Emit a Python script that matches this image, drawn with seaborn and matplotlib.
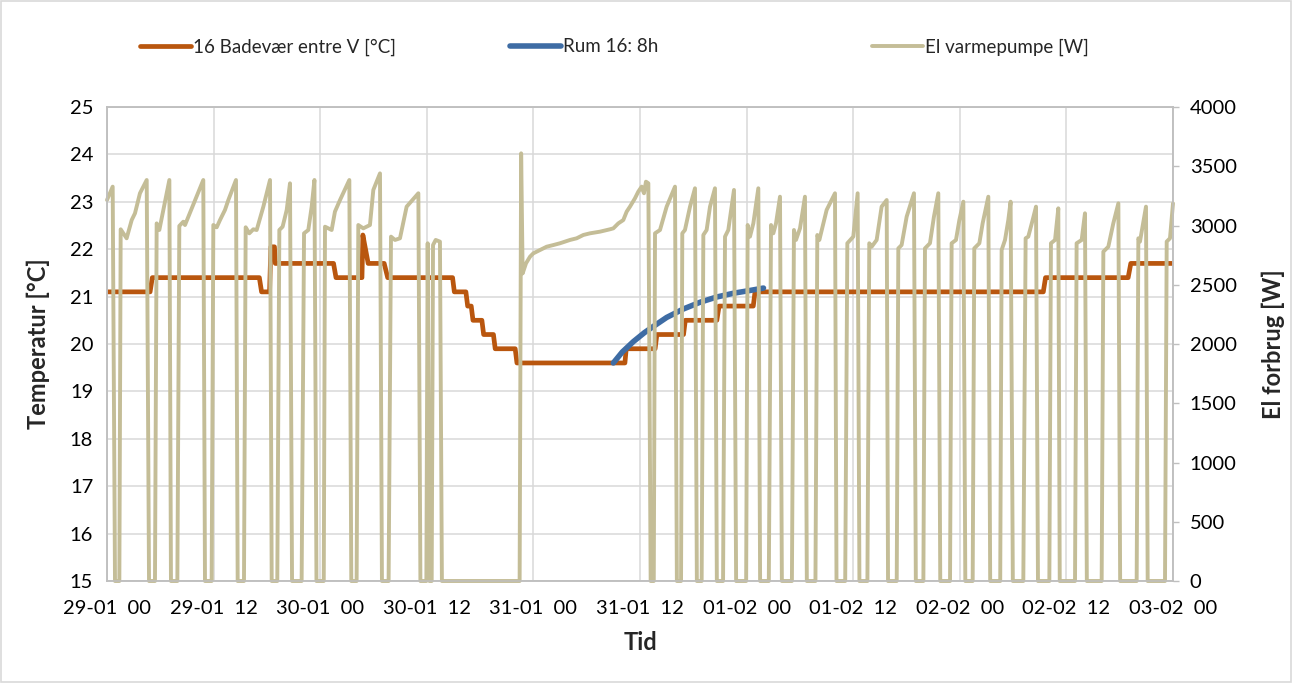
import matplotlib
matplotlib.use("Agg")
import matplotlib.pyplot as plt
from matplotlib.lines import Line2D
from matplotlib.patches import Rectangle
import seaborn as sns
import pandas as pd

# ---------------- data (hours since 29-01 00:00) ----------------
tick_hours = [0, 12, 24, 36, 48, 60, 72, 84, 96, 108, 120]
tick_labels = ["29-01  00", "29-01  12", "30-01  00", "30-01  12", "31-01  00",
               "31-01  12", "01-02  00", "01-02  12", "02-02  00", "02-02  12",
               "03-02  00"]

temp_t = [0.0, 4.85, 5.1, 17.15, 17.4, 18.3, 18.45, 18.85, 18.95, 25.5, 25.78,
          28.7, 28.8, 29.05, 29.4, 31.2, 31.6, 38.9, 39.1, 40.4, 40.6, 41.0,
          41.2, 42.2, 42.4, 43.5, 43.7, 45.95, 46.15, 58.3, 58.45, 61.7, 61.9,
          64.9, 65.1, 68.65, 68.9, 72.75, 72.95, 105.4, 105.65, 114.95, 115.25,
          120.0]
temp_v = [21.1, 21.1, 21.4, 21.4, 21.1, 21.1, 22.05, 22.05, 21.7, 21.7, 21.4,
          21.4, 22.3, 22.05, 21.7, 21.7, 21.4, 21.4, 21.1, 21.1, 20.8, 20.8,
          20.5, 20.5, 20.2, 20.2, 19.9, 19.9, 19.6, 19.6, 19.9, 19.9, 20.2,
          20.2, 20.5, 20.5, 20.8, 20.8, 21.1, 21.1, 21.4, 21.4, 21.7,
          21.7]

rum_t = [57.0, 58.0, 59.25, 60.5, 61.5, 63.0, 64.9, 66.75, 68.6, 70.5, 72.4, 73.9]
rum_v = [19.6, 19.83, 20.05, 20.24, 20.37, 20.56, 20.74, 20.88, 20.99, 21.07, 21.13, 21.18]

power_t = [0.00, 0.64, 0.90, 1.39, 1.54, 2.21, 2.78, 3.15, 3.71, 4.47, 4.73, 5.40,
           5.59, 5.89, 7.02, 7.20, 7.92, 8.14, 8.59, 8.78, 10.84, 11.03, 11.78,
           11.97, 12.35, 12.72, 13.28, 13.66, 14.52, 14.71, 15.42, 15.61, 16.02,
           16.47, 16.85, 17.60, 18.35, 18.54, 19.17, 19.40, 19.77, 20.23, 20.60,
           20.83, 21.91, 22.18, 22.66, 23.04, 23.35, 23.58, 24.40, 24.54, 25.29,
           25.66, 26.23, 27.28, 27.50, 28.10, 28.29, 28.85, 29.60, 29.98, 30.73,
           30.95, 31.70, 31.97, 32.42, 32.98, 33.73, 35.05, 35.28, 35.95, 36.10,
           36.30, 36.55, 36.70, 37.00, 37.48, 37.70, 46.45, 46.62, 46.79, 47.17,
           47.62, 47.99, 48.74, 49.49, 50.24, 50.99, 52.12, 52.87, 53.62, 54.37,
           55.50, 56.62, 57.00, 57.56, 58.12, 58.50, 58.87, 59.43, 59.81, 60.19,
           60.30, 60.45, 60.67, 60.94, 61.20, 61.55, 61.69, 62.25, 63.00, 63.94,
           64.15, 64.62, 64.76, 65.06, 65.63, 66.19, 66.40, 66.94, 67.13, 67.50,
           67.88, 68.44, 68.65, 69.35, 69.57, 69.94, 70.58, 70.82, 71.95, 72.12,
           72.38, 72.76, 73.32, 73.52, 74.50, 74.75, 75.01, 75.31, 75.76, 75.97,
           77.10, 77.33, 77.56, 78.01, 78.57, 78.78, 79.75, 79.96, 80.19, 81.01,
           81.95, 82.12, 83.10, 83.34, 84.01, 84.50, 84.70, 85.60, 85.81, 86.08,
           86.64, 87.20, 87.77, 87.92, 88.90, 89.08, 89.45, 90.02, 90.84, 91.05,
           91.90, 92.08, 92.64, 93.09, 93.58, 93.80, 94.90, 95.08, 95.57, 95.95,
           96.40, 96.62, 97.45, 97.63, 98.20, 98.57, 99.21, 99.42, 100.55, 100.71,
           101.09, 101.46, 101.72, 101.97, 103.15, 103.41, 103.71, 104.20, 104.58,
           104.80, 106.08, 106.26, 106.72, 107.09, 107.25, 108.97, 109.15, 109.72,
           110.09, 110.30, 111.97, 112.16, 112.72, 113.28, 113.85, 114.05, 115.91,
           116.10, 116.28, 116.96, 117.15, 119.10, 119.29, 119.66, 120.00]
power_w = [3215, 3328, 0, 0, 2968, 2892, 3046, 3103, 3272, 3384, 0, 0,
           3018, 2962, 3384, 0, 0, 2996, 3032, 3004, 3384, 0, 0,
           3004, 2985, 3046, 3131, 3215, 3384, 0, 0, 2985, 2934,
           2968, 2962, 3159, 3384, 0, 0, 2962, 2990, 3131, 3356,
           0, 0, 2934, 2962, 3159, 3384, 0, 0, 2990, 2962,
           3117, 3215, 3384, 0, 0, 3004, 2976, 3004, 3300, 3440,
           0, 0, 2906, 2878, 2892, 3159, 3272, 0, 0, 2850,
           0, 0, 2835, 2878, 2864, 0, 0, 3609, 2596, 2681,
           2737, 2765, 2793, 2821, 2835, 2850, 2878, 2892, 2920, 2934,
           2948, 2968, 2976, 3018, 3046, 3117, 3159, 3229, 3286, 3328,
           3300, 3272, 3370, 3356, 0, 0, 2934, 2962, 3159, 3328,
           0, 0, 2934, 2962, 3159, 3314, 0, 0, 2920, 2962,
           3159, 3314, 0, 0, 2906, 2962, 3300, 0, 0, 3004,
           2906, 3018, 3314, 0, 0, 3004, 2934, 3018, 3243, 0,
           0, 2962, 2878, 2976, 3243, 0, 0, 2920, 2878, 3131,
           3272, 0, 0, 2850, 2906, 3272, 0, 0, 2850, 2821,
           2878, 3159, 3215, 0, 0, 2807, 2835, 3075, 3272, 0,
           0, 2807, 2850, 3075, 3272, 0, 0, 2850, 2878, 3046,
           3201, 0, 0, 2807, 2850, 3018, 3243, 0, 0, 2793,
           2878, 3046, 3201, 0, 0, 2892, 2906, 3046, 3159,
           0, 0, 2850, 2878, 3145, 0, 0, 2850, 2878,
           3103, 0, 0, 2779, 2821, 3018, 3187, 0, 0,
           2892, 2864, 3159, 0, 0, 2864, 2892, 3187]

series_names = ["16 Badevær entre V [°C]", "Rum 16: 8h", "El varmepumpe [W]"]
colors = ["#B9560E", "#3E6CA4", "#C4BD97"]

# ---------------- plotting ----------------
sns.set_theme(style="white")
plt.rcParams["font.family"] = ["Lato", "DejaVu Sans"]

fig = plt.figure(figsize=(12.92, 6.83), dpi=100)
fig.patches.append(Rectangle((0.001, 0.0015), 0.998, 0.997, transform=fig.transFigure,
                             fill=False, edgecolor="#D9D9D9", lw=1.2))

ax = fig.add_axes([107 / 1292, 1 - 581 / 683, (1173 - 107) / 1292, (581 - 107) / 683])
ax2 = ax.twinx()

df_temp = pd.DataFrame({"t": temp_t, "v": temp_v})
df_rum = pd.DataFrame({"t": rum_t, "v": rum_v})
df_pow = pd.DataFrame({"t": power_t, "w": power_w})

lws = [3.4, 4.0, 2.8]
sns.lineplot(data=df_temp, x="t", y="v", ax=ax, color=colors[0], lw=lws[0],
             estimator=None, sort=False, legend=False, solid_joinstyle="round")
sns.lineplot(data=df_rum, x="t", y="v", ax=ax, color=colors[1], lw=lws[1],
             estimator=None, sort=False, legend=False, solid_capstyle="round")
sns.lineplot(data=df_pow, x="t", y="w", ax=ax2, color=colors[2], lw=lws[2],
             estimator=None, sort=False, legend=False, clip_on=False,
             solid_joinstyle="round")

ax.set_xlim(0, 120)
ax.set_ylim(15, 25)
ax2.set_ylim(0, 4000)
ax.set_xticks(tick_hours)
ax.set_xticklabels(tick_labels)
ax.set_yticks(range(15, 26))
ax2.set_yticks(range(0, 4001, 500))

ax.grid(True, color="#D9D9D9", lw=1.1)
ax2.grid(False)
for a in (ax, ax2):
    for s in a.spines.values():
        s.set_color("#BFBFBF")
        s.set_linewidth(1.1)

ax.tick_params(axis="x", labelsize=14.5, colors="#BFBFBF", labelcolor="black",
               length=0, pad=14)
ax.tick_params(axis="y", labelsize=14.5, colors="#BFBFBF", labelcolor="black",
               length=0, pad=10)
ax2.tick_params(axis="y", labelsize=14.5, colors="#BFBFBF", labelcolor="black",
                length=4, width=1, direction="out", pad=8)

ax.set_xlabel("Tid", fontsize=17, fontweight="bold", labelpad=10)
ax.set_ylabel("Temperatur [°C]", fontsize=17, fontweight="bold", labelpad=14)
ax2.set_ylabel("El forbrug [W]", fontsize=17, fontweight="bold", labelpad=18)

xpos = [140, 510, 872]
for name, c, lw, xp in zip(series_names, colors, lws, xpos):
    h = Line2D([], [], color=c, lw=lw, solid_capstyle="round")
    fig.legend(handles=[h], labels=[name], loc="center left",
               bbox_to_anchor=(xp / 1292, 1 - 47 / 683), frameon=False,
               fontsize=13.5, handlelength=2.7, handletextpad=0.15,
               borderaxespad=0, borderpad=0)

fig.savefig("out.png", dpi=100)
